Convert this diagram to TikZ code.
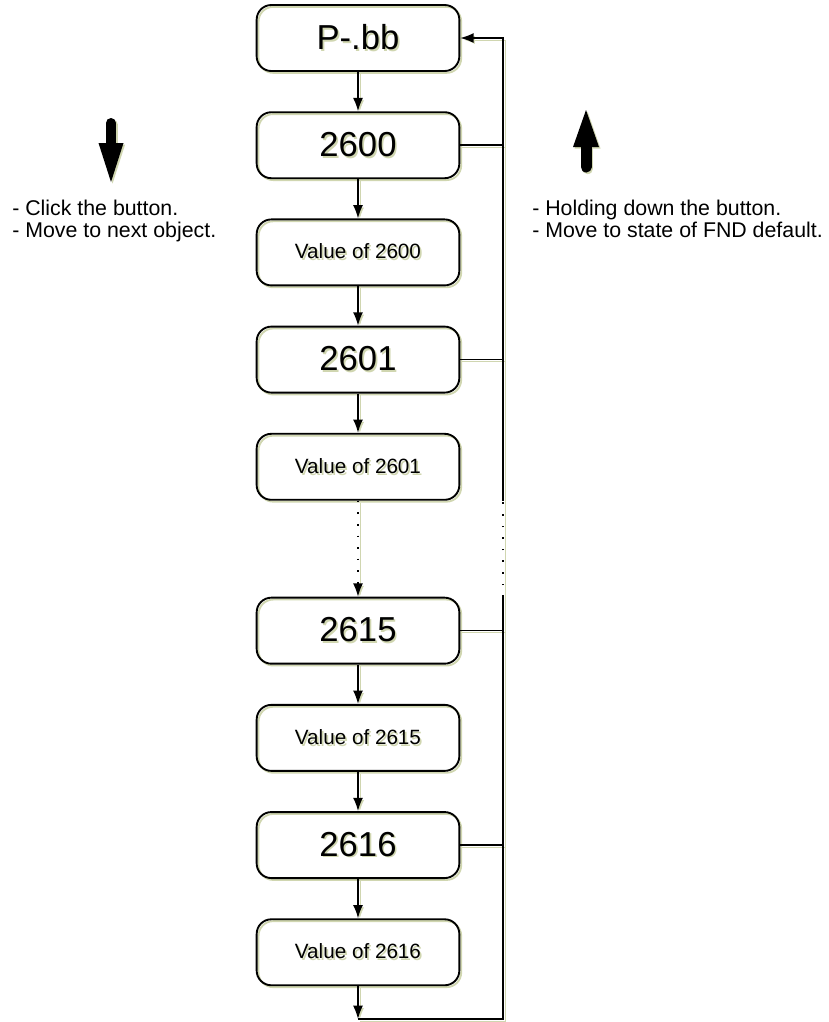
\documentclass[tikz,border=0pt]{standalone}
\usepackage{fontspec}
\setmainfont{Liberation Sans}
\usetikzlibrary{arrows.meta, positioning}
\definecolor{shadowgreen}{RGB}{208,214,176}
\newcommand{\shd}[1]{\makebox[0pt][l]{\hspace{1.3pt}\raisebox{-1.3pt}{\color{shadowgreen}#1}}#1}
\tikzstyle{shadowed} = [preaction={draw=shadowgreen, transform canvas={shift={(1.4pt,-1.4pt)}}}]
\tikzstyle{codebox} = [rectangle, rounded corners=11pt, minimum width=152pt, minimum height=49.5pt, text centered, draw=black, line width=1.4pt, shadowed, font=\fontsize{26}{30}\selectfont]
\tikzstyle{valuebox} = [codebox, font=\fontsize{15.5}{18}\selectfont]
\tikzstyle{arrow} = [line width=1.2pt,->,>={Latex[length=10pt,width=7.5pt]}, shadowed]
\tikzstyle{link} = [line width=1.2pt, shadowed]
\tikzstyle{gapline} = [dash pattern=on 1.2pt off 7.5pt]
\tikzstyle{note} = [align=left, anchor=north west, inner sep=0pt, font=\fontsize{16}{16.5}\selectfont]

\begin{document}
\begin{tikzpicture}[x=0.75pt, y=-0.75pt, node distance=29.5pt]
    \useasboundingbox (0,0) rectangle (829,1022);
    % Nodes
    \node (pbb) [codebox] at (358,38) {\shd{P-.bb}};
    \node (c2600) [codebox, below=of pbb] {\shd{2600}};
    \node (v2600) [valuebox, below=of c2600] {\shd{Value of 2600}};
    \node (c2601) [codebox, below=of v2600] {\shd{2601}};
    \node (v2601) [valuebox, below=of c2601] {\shd{Value of 2601}};
    \node (c2615) [codebox, below=72pt of v2601] {\shd{2615}};
    \node (v2615) [valuebox, below=of c2615] {\shd{Value of 2615}};
    \node (c2616) [codebox, below=of v2615] {\shd{2616}};
    \node (v2616) [valuebox, below=of c2616] {\shd{Value of 2616}};
    \coordinate (rail) at (503,0);
    \coordinate (bottom) at (358,1019);

    % Notes
    \node (clicknote) [note] at (12,200) {- Click the button.\\- Move to next object.};
    \node (holdnote) [note] at (532,200) {- Holding down the button.\\- Move to state of FND default.};

    % Block arrows
    \foreach \c/\d in {shadowgreen/1.6, black/0} {
        \draw [\c, line width=7.5pt, line cap=round] (111+\d,123+\d) -- (111+\d,146+\d);
        \fill [\c] (98.5+\d,143+\d) -- (123.5+\d,143+\d) -- (111+\d,182+\d) -- cycle;
        \draw [\c, line width=8.25pt, line cap=round] (586+\d,144+\d) -- (586+\d,167+\d);
        \fill [\c] (573+\d,147+\d) -- (599+\d,147+\d) -- (586+\d,110+\d) -- cycle;
    }

    % Arrows
    \foreach \a/\b in {pbb/c2600, c2600/v2600, v2600/c2601, c2601/v2601, c2615/v2615, v2615/c2616, c2616/v2616}
        \draw [arrow] (\a) -- (\b);
    \draw [arrow, gapline] (v2601) -- (c2615);
    \foreach \n in {c2600, c2601, c2615, c2616}
        \draw [link] (\n.east) -- (\n.east -| rail);
    \draw [arrow] (v2616) -- (bottom);
    \draw [link] (bottom) -| (c2615.north -| rail);
    \draw [link, gapline] (c2615.north -| rail) -- (v2601.south -| rail);
    \draw [arrow] (v2601.south -| rail) |- (pbb.east);
\end{tikzpicture}
\end{document}
